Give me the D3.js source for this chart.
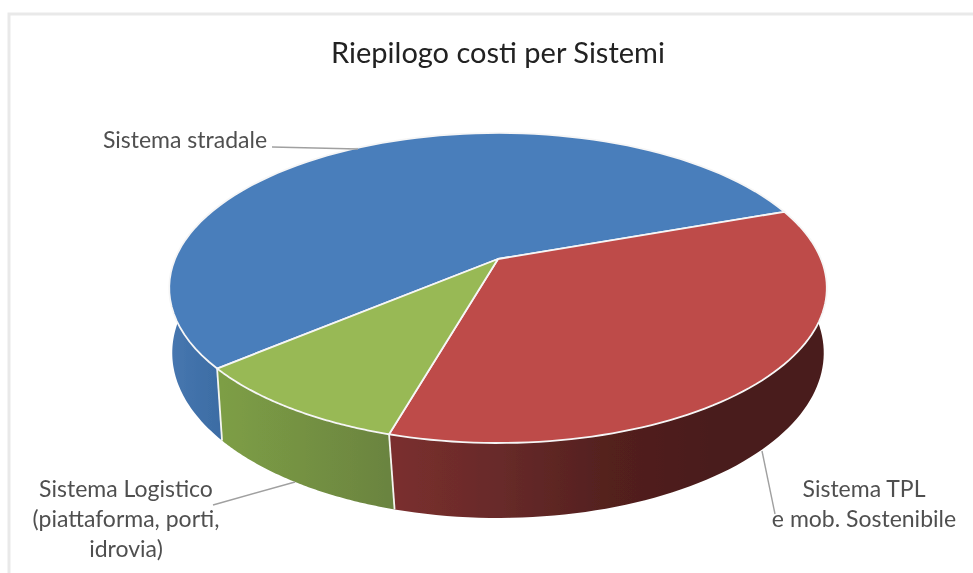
<!DOCTYPE html>
<html><head><meta charset="utf-8">
<script src="https://cdn.jsdelivr.net/npm/d3@7"></script>
<style>html,body{margin:0;background:#fff}svg{display:block}text{font-family:Lato,"Open Sans",sans-serif}</style>
</head><body><svg id="c" width="973" height="573"></svg>
<script>
const title = "Riepilogo costi per Sistemi";
const categories = ["Sistema stradale", "Sistema TPL e mob. Sostenibile", "Sistema Logistico (piattaforma, porti, idrovia)"];
const values = [55.7, 34.9, 9.4];
const topColors = ["#4a7ebb", "#be4b48", "#98b954"];
const wallStops = [["#4676af", "#38689f"], ["#7a2f2e", "#672a29", "#53201e", "#491c1a"], ["#7d9e45", "#6a8340"]];
const firstAngleDeg = 229.9;

const W = 973, H = 573, rad = d => d * Math.PI / 180, TAU = Math.PI * 2;
const svg = d3.select("#c");
const defs = svg.append("defs");
defs.append("filter").attr("id", "soft").attr("x", "-5%").attr("y", "-5%").attr("width", "110%").attr("height", "110%")
  .append("feGaussianBlur").attr("stdDeviation", 0.7);
const root = svg.append("g").attr("filter", "url(#soft)");
root.append("rect").attr("width", W).attr("height", H).attr("fill", "#fff");
root.append("path").attr("d", `M9,${H}V14H${W}`).attr("fill", "none").attr("stroke", "#e9e9e9").attr("stroke-width", 3);

// perspective projection of a flat disc, angle clockwise from the top
const disc = (cx, cy, a, b, k, turn = 0) => t0 => {
  const t = t0 + turn, u = Math.sin(t), v = -Math.cos(t), d = 1 - k * v;
  return [cx + a * u / d, cy + b * v / d];
};
const topDisc = disc(498, 259, 323, 149.6, 0.187);
const botDisc = disc(498, 322, 320, 159.3, 0.187, rad(-0.7));
const arcAngles = (a0, a1) => d3.range(0, 81).map(i => a0 + (a1 - a0) * i / 80);
const line = d3.line();

const pie = d3.pie().sort(null).startAngle(rad(firstAngleDeg)).endAngle(rad(firstAngleDeg + 360));
const arcs = pie(values);
const lo = rad(60), hi = rad(300);
// slices that wrapped past the top are brought back into one turn for the side wall
const span = s => s.startAngle >= TAU ? [s.startAngle - TAU, s.endAngle - TAU] : [s.startAngle, s.endAngle];

const walls = root.append("g");
arcs.forEach((s, i) => {
  const [sa, ea] = span(s);
  const a0 = Math.max(sa, lo), a1 = Math.min(ea, hi);
  const xs = arcAngles(a0, a1).map(t => botDisc(t)[0]);
  const x0 = d3.min(xs), x1 = i === 1 ? Math.min(d3.max(xs), 720) : d3.max(xs);
  const g = defs.append("linearGradient").attr("id", "w" + i).attr("gradientUnits", "userSpaceOnUse")
    .attr("x1", x0).attr("x2", x1).attr("y1", 0).attr("y2", 0);
  wallStops[i].forEach((c, j, arr) => g.append("stop").attr("offset", j / (arr.length - 1)).attr("stop-color", c));
  const pts = arcAngles(a0, a1).map(topDisc).concat(arcAngles(a1, a0).map(botDisc));
  walls.append("path").attr("d", line(pts) + "Z").attr("fill", `url(#w${i})`);
});
arcs.forEach(s => {
  const t = span(s)[0];
  if (t < rad(120) || t > hi) return;
  walls.append("path").attr("d", line([topDisc(t), botDisc(t)])).attr("stroke", "#f4f5f0").attr("stroke-width", 1.8).attr("fill", "none");
});
root.append("g").selectAll("path").data(arcs).join("path")
  .attr("d", s => line([[498, 259]].concat(arcAngles(s.startAngle, s.endAngle).map(topDisc))) + "Z")
  .attr("fill", (s, i) => topColors[i]).attr("stroke", "#f6f6f6").attr("stroke-width", 1.8).attr("stroke-linejoin", "round");

const leaders = [[[272, 147], [358, 149]], [[213, 505], [295, 482]], [[762, 451], [775, 514]]];
root.append("g").selectAll("path").data(leaders).join("path").attr("d", d => line(d))
  .attr("fill", "none").attr("stroke", "#a0a0a0").attr("stroke-width", 1.4);

const labelLines = [["Sistema stradale"], ["Sistema TPL", "e mob. Sostenibile"], ["Sistema Logistico", "(piattaforma, porti,", "idrovia)"]];
const labelAt = [[185, 148], [864, 497], [126, 497]];
labelLines.forEach((ls, i) => ls.forEach((l, j) => root.append("text").text(l)
  .attr("x", labelAt[i][0]).attr("y", labelAt[i][1] + j * 30).attr("text-anchor", "middle")
  .attr("font-size", 23).attr("fill", "#505050")));
root.append("text").text(title).attr("x", 498).attr("y", 63).attr("text-anchor", "middle")
  .attr("font-size", 29).attr("fill", "#222");
</script></body></html>
